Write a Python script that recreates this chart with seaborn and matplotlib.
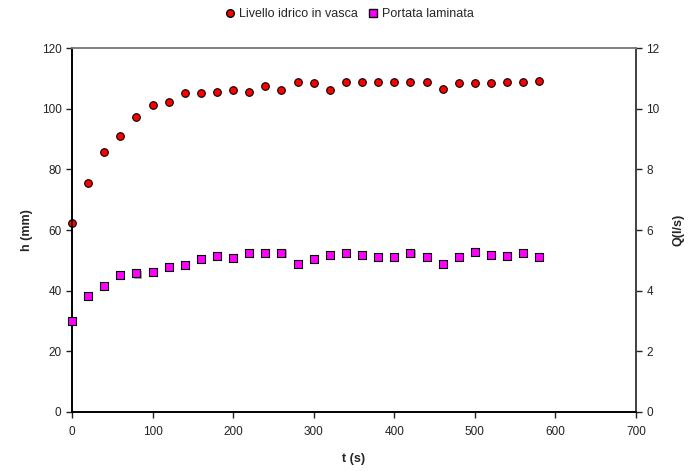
import numpy as np
import pandas as pd
import matplotlib
matplotlib.use('Agg')
import matplotlib.pyplot as plt
import matplotlib.transforms as mtransforms
import seaborn as sns
from matplotlib.lines import Line2D

# Data
t_s = [0, 20, 40, 60, 80, 100, 120, 140, 160, 180, 200, 220, 240, 260, 280,
       300, 320, 340, 360, 380, 400, 420, 440, 460, 480, 500, 520, 540, 560, 580]
h_mm = [62.3, 75.4, 85.7, 91.1, 97.3, 101.2, 102.1, 105.1, 105.3, 105.4,
        106.3, 105.4, 107.4, 106.3, 108.9, 108.6, 106.1, 108.7, 108.9, 108.9,
        108.9, 108.9, 108.9, 106.6, 108.6, 108.6, 108.6, 108.9, 108.9, 109.2]
q_ls = [2.99, 3.83, 4.15, 4.51, 4.57, 4.61, 4.79, 4.84, 5.06, 5.15,
        5.09, 5.25, 5.25, 5.25, 4.89, 5.06, 5.19, 5.25, 5.19, 5.12,
        5.11, 5.25, 5.11, 4.89, 5.12, 5.29, 5.19, 5.15, 5.25, 5.12]

df = pd.DataFrame({'t': t_s, 'h': h_mm, 'q': q_ls})

sns.set_theme(style='white')
plt.rcParams['font.family'] = ['Liberation Sans', 'DejaVu Sans']

fig = plt.figure(figsize=(6.96, 4.71), dpi=100)
ax = fig.add_axes([0.1034, 0.1253, 0.8104, 0.7727])
ax2 = ax.twinx()

sns.scatterplot(data=df, x='t', y='h', ax=ax, marker='o', s=30,
                color='#ff0000', edgecolor='black', linewidth=0.8, zorder=3,
                clip_on=False)

# grey drop shadow under the squares, like the spreadsheet original
sns.scatterplot(data=df, x='t', y='q', ax=ax2, marker='s', s=32,
                color='#a8a8a8', edgecolor='none', linewidth=0, zorder=2,
                clip_on=False)
shadow = ax2.collections[-1]
shadow.set_offset_transform(ax2.transData + mtransforms.ScaledTranslation(
    1.2 / 100, -1.2 / 100, fig.dpi_scale_trans))
sns.scatterplot(data=df, x='t', y='q', ax=ax2, marker='s', s=32,
                color='#ff00ff', edgecolor='black', linewidth=0.8, zorder=3,
                clip_on=False)

ax.set_xlim(0, 700)
ax.set_ylim(0, 120)
ax2.set_ylim(0, 12)
ax.set_xticks(range(0, 701, 100))
ax.set_yticks(range(0, 121, 20))
ax2.set_yticks(range(0, 13, 2))

ax.set_xlabel('t (s)', fontsize=9, fontweight='bold', labelpad=11)
ax.set_ylabel('h (mm)', fontsize=9, fontweight='bold', labelpad=6)
ax2.set_ylabel('Q(l/s)', fontsize=9, fontweight='bold', labelpad=9)

for a in (ax, ax2):
    a.tick_params(axis='both', labelsize=8.5, colors='#222222', length=4,
                  width=1, direction='out')
    a.tick_params(left=(a is ax), bottom=(a is ax), right=(a is ax2))
    a.spines['left'].set_color('black')
    a.spines['bottom'].set_color('black')
    a.spines['right'].set_color('#404040')
    a.spines['top'].set_color('#808080')
    for sp in a.spines.values():
        sp.set_linewidth(1.2)
    a.grid(False)
ax.tick_params(axis='x', pad=6)

handles = [
    Line2D([], [], marker='o', linestyle='', markerfacecolor='#ff0000',
           markeredgecolor='black', markersize=5.5, label='Livello idrico in vasca'),
    Line2D([], [], marker='s', linestyle='', markerfacecolor='#ff00ff',
           markeredgecolor='black', markersize=5.5, label='Portata laminata'),
]
fig.legend(handles=handles, loc='upper center', bbox_to_anchor=(0.5, 1.006),
           ncol=2, frameon=False, fontsize=9, handletextpad=0.1,
           columnspacing=0.6, handlelength=1.2)

fig.savefig('out.png', dpi=100)
